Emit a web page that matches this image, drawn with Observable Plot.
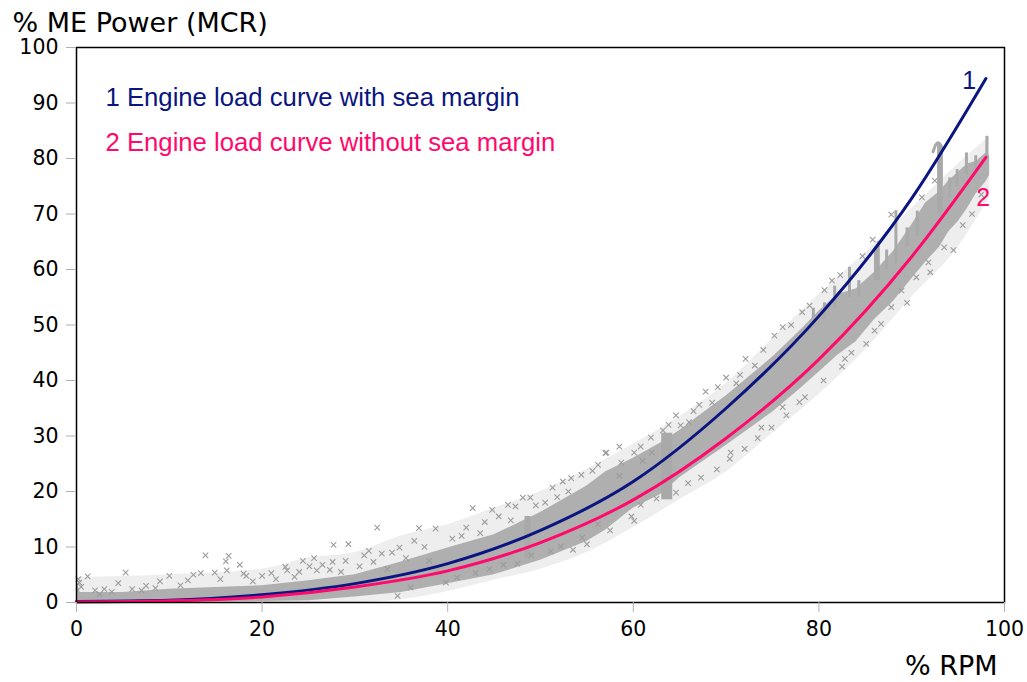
<!DOCTYPE html>
<html>
<head>
<meta charset="utf-8">
<script src="https://cdn.jsdelivr.net/npm/d3@7"></script>
<script src="https://cdn.jsdelivr.net/npm/@observablehq/plot@0.6"></script>
<style>
  body { margin: 0; background: #fff; }
</style>
</head>
<body>
<div id="chart"></div>
<script>
// Engine load curves: % MCR power against % RPM
const rpmPoints     = [0, 10, 20, 30, 40, 50, 60, 70, 80, 90, 98];
const withMargin    = [0.2, 0.4, 1.4, 3.4, 7.0, 13.0, 21.8, 35.0, 51.6, 72.8, 94.4];
const withoutMargin = [0.1, 0.3, 1.0, 2.8, 5.7, 10.8, 18.5, 29.6, 43.8, 62.3, 80.2];

// Dense part of the logged operating points (lower / upper edge per % RPM)
const bandX    = [0, 0.4, 5, 10, 15, 20, 25, 30, 35, 40, 45, 50, 55, 57, 60, 63, 65, 67, 70, 75, 78, 80, 82, 84, 86, 88, 90, 91.5, 93, 94, 95, 96, 97, 98, 98.4];
const bandLow  = [0, 0, 0, 0, 0.1, 0.2, 0.3, 1.0, 1.8, 3.4, 5.0, 7.6, 11.0, 13.0, 17.0, 19.5, 22.5, 24.8, 28.3, 34.3, 38.5, 41.5, 44.5, 47.0, 51.0, 54.2, 58.3, 61.3, 64.0, 66.8, 68.6, 71.0, 73.8, 75.8, 77.0];
const bandHigh = [4.0, 1.8, 1.8, 2.4, 2.7, 3.0, 3.9, 5.0, 7.3, 9.8, 12.2, 16.2, 21.0, 23.5, 26.0, 28.8, 31.0, 33.5, 37.2, 44.2, 49.0, 52.5, 55.5, 56.5, 59.5, 63.2, 68.0, 72.0, 74.0, 76.0, 77.5, 79.0, 79.5, 81.0, 80.5];

// Wider, sparser spread of points around the dense part
const haloX    = [0, 10, 20, 25, 30, 35, 40, 45, 50, 55, 60, 65, 70, 75, 80, 85, 90, 95, 98.4];
const haloLow  = [0, 0, 0, 0, 0, 0.5, 2.0, 4.0, 6.0, 9.0, 13.5, 18.5, 23.5, 30.5, 37.5, 45.5, 55.0, 64.0, 73.0];
const haloHigh = [4.5, 5.0, 6.0, 8.0, 9.0, 12.0, 14.0, 17.0, 20.0, 24.0, 28.5, 33.5, 39.5, 47.5, 55.5, 63.0, 71.0, 79.0, 84.0];

// Clusters and short vertical streaks of points
const spikeX     = [48.6, 63.6, 79.4, 80.6, 81.7, 83.3, 84.3, 86.1, 86.4, 87.3, 88.3, 89.5, 90.6, 92.9, 93.2, 94.1, 94.9, 95.9, 96.9, 98.1];
const spikeBase  = [8.0, 18.5, 50, 51, 53, 55, 55, 58, 58, 60, 61, 64, 66, 70, 70, 73, 75, 77, 78, 80];
const spikeTop   = [15.5, 30.5, 53.0, 54.0, 57.0, 60.4, 58.0, 64.0, 65.0, 63.5, 70.6, 67.5, 70.5, 82.6, 82.0, 76.5, 78.0, 81.0, 80.5, 84.0];
const spikeWidth = [6, 11, 3, 3, 3, 3, 3, 3, 3, 3, 3, 3, 3, 3, 3, 3, 3, 3, 3, 3];
const hookX = [92.3, 92.6, 92.9, 93.2];
const hookY = [81.2, 82.5, 82.8, 82.2];

// Scattered individual points around the dense band
const outlierX = [0.2, 0.3, 0.5, 1.2, 2.0, 3.0, 3.8, 5.3, 6.0, 7.0, 7.5, 8.5, 10.0, 11.2, 12.6, 13.4, 13.9, 14.9, 16.1, 16.2, 16.4, 17.6, 18.3, 19.0, 20.0, 21.0, 22.5, 22.7, 23.5, 24.4, 25.1, 25.6, 25.9, 27.3, 27.6, 27.7, 29.0, 29.3,
  31.0, 31.5, 32.4, 32.9, 34.6, 34.8, 36.0, 36.4, 36.9, 38.7, 39.8, 42.7, 43.0, 44.8, 46.0, 46.5, 47.3, 48.1, 48.9, 51.1, 51.3, 52.2, 52.4, 53.3, 54.4, 54.5, 55.6, 56.2, 56.2, 57.0, 57.1, 58.5, 58.7, 59.8, 60.1, 60.1, 60.8, 60.8, 61.9, 62.5, 63.2, 64.6, 64.6, 65.1, 65.9, 66.0, 67.1, 67.3, 67.8, 69.0, 69.1, 70.4, 71.1, 72.0, 72.1, 73.1, 73.4, 74.9, 75.2, 76.1, 76.1, 76.5, 77.9, 78.2,
  80.6, 81.4, 82.3, 82.5, 82.8, 84.7, 85.1, 85.8, 86.7, 87.8, 87.8, 88.9, 90.5, 91.1, 91.8, 92.5, 93.5, 95.5, 97.5,
  2.5, 4.5, 9.0, 12.0, 15.5, 18.0, 21.5, 24.0, 26.5, 28.5, 30.5, 32.0, 34.0, 33.5, 35.5, 37.5, 38.0, 40.5, 41.5, 42.0, 43.5, 44.0, 45.5, 46.8, 49.5, 50.5, 51.8, 53.0, 41.0, 44.5, 47.5, 49.0, 53.5, 55.0, 57.5, 58.5, 61.0, 62.0, 63.8, 66.5, 68.5, 70.0, 71.5, 74.0, 77.0, 79.0, 70.5, 73.8, 78.5, 80.5, 83.5, 86.0, 89.5, 92.0, 94.5, 96.5];
const outlierY = [4.2, 3.6, 2.8, 4.7, 2.2, 2.4, 1.9, 5.4, 2.4, 2.2, 3.0, 2.6, 4.8, 3.1, 5.0, 5.3, 8.5, 5.4, 7.4, 5.8, 8.4, 6.8, 4.8, 3.8, 4.8, 5.3, 6.4, 5.8, 4.6, 7.5, 6.5, 8.0, 5.8, 5.9, 7.3, 10.4, 7.5, 10.5,
  8.5, 9.3, 13.5, 8.8, 1.2, 9.9, 2.7, 11.1, 13.4, 13.3, 3.6, 17.0, 5.3, 16.7, 6.8, 17.6, 17.3, 18.9, 18.9, 9.2, 20.7, 10.1, 21.8, 22.4, 23.0, 11.7, 23.7, 24.8, 14.1, 26.9, 27.0, 28.1, 25.2, 15.5, 14.7, 27.0, 28.1, 17.6, 29.7, 18.7, 31.0, 33.7, 19.8, 31.9, 21.5, 32.5, 35.6, 22.5, 38.0, 24.0, 38.8, 25.9, 39.5, 27.7, 43.9, 42.7, 29.6, 31.5, 48.1, 49.6, 35.2, 33.7, 36.1, 52.3,
  56.3, 58.0, 59.0, 42.5, 43.9, 62.4, 46.6, 65.4, 50.2, 69.9, 53.2, 56.2, 58.6, 73.0, 61.3, 76.0, 64.0, 68.0, 73.5,
  1.5, 3.5, 3.8, 4.0, 4.2, 5.2, 4.2, 5.5, 6.8, 5.5, 6.5, 7.3, 9.0, 6.0, 8.0, 10.0, 7.5, 11.5, 12.0, 13.5, 12.5, 14.5, 15.5, 14.8, 17.5, 18.0, 19.0, 20.0, 4.5, 6.0, 7.0, 8.5, 9.5, 10.5, 13.0, 22.8, 25.5, 27.0, 32.0, 34.5, 36.0, 40.5, 41.0, 45.5, 50.0, 53.5, 27.0, 31.5, 37.0, 40.0, 45.0, 49.0, 54.0, 59.5, 63.5, 70.0];

const xTicks = [0, 20, 40, 60, 80, 100];
const yTicks = [0, 10, 20, 30, 40, 50, 60, 70, 80, 90, 100];
const curveLabels = ["1", "2"];
const curveLabelX = [96.2, 97.7];
const curveLabelY = [94.0, 72.8];
const legendLines = ["1 Engine load curve with sea margin", "2 Engine load curve without sea margin"];

const NAVY = "#0a1580";
const PINK = "#ff0a6c";
const GREY = "#a9a9a9";

const rows = (xs, ...cols) => xs.map((x, i) => Object.fromEntries([["x", x], ...cols.map(([k, v]) => [k, v[i]])]));
const band = rows(bandX, ["lo", bandLow], ["hi", bandHigh]);
const halo = rows(haloX, ["lo", haloLow], ["hi", haloHigh]);
const spikes = rows(spikeX, ["base", spikeBase], ["top", spikeTop], ["w", spikeWidth]);
const hook = rows(hookX, ["y", hookY]);
const outliers = rows(outlierX, ["y", outlierY]);
const curves = [
  ...rpmPoints.map((x, i) => ({x, y: withMargin[i], s: "with"})),
  ...rpmPoints.map((x, i) => ({x, y: withoutMargin[i], s: "without"}))
];
const labels = curveLabels.map((t, i) => ({t, x: curveLabelX[i], y: curveLabelY[i], c: i ? PINK : NAVY}));

const chart = Plot.plot({
  width: 1027,
  height: 682,
  marginLeft: 76,
  marginRight: 23,
  marginTop: 47,
  marginBottom: 80,
  x: {domain: [0, 100]},
  y: {domain: [0, 100]},
  style: {fontFamily: "DejaVu Sans", fontSize: "20.5px", background: "white", color: "black"},
  marks: [
    Plot.areaY(halo, {x: "x", y1: "lo", y2: "hi", fill: GREY, fillOpacity: 0.2, curve: "monotone-x"}),
    Plot.areaY(band, {x: "x", y1: "lo", y2: "hi", fill: GREY, fillOpacity: 0.92}),
    ...spikes.map(s => Plot.ruleX([s], {x: "x", y1: "base", y2: "top", stroke: GREY, strokeWidth: s.w})),
    Plot.line(hook, {x: "x", y: "y", stroke: GREY, strokeWidth: 3, curve: "natural"}),
    Plot.dot(outliers, {x: "x", y: "y", symbol: "times", r: 2.6, stroke: "#9c9c9c", strokeWidth: 1.1}),
    Plot.line(curves, {x: "x", y: "y", z: "s", stroke: d => d.s === "with" ? NAVY : PINK, strokeWidth: 3, curve: "monotone-x"}),
    Plot.frame({stroke: "black", strokeWidth: 1.5}),
    Plot.axisX({ticks: xTicks, tickSize: 10, tickPadding: 9, stroke: "#b0b0b0", fill: "black", label: null}),
    Plot.axisY({ticks: yTicks, tickSize: 10, tickPadding: 8, stroke: "#b0b0b0", fill: "black", label: null}),
    Plot.text(labels, {x: "x", y: "y", text: "t", fill: "c", fontFamily: "Liberation Sans", fontSize: 25, textAnchor: "middle", lineAnchor: "middle"}),
    Plot.text([legendLines[0]], {text: d => d, frameAnchor: "top-left", dx: 29, dy: 58, textAnchor: "start", lineAnchor: "bottom", fill: NAVY, fontFamily: "Liberation Sans", fontSize: 25.7}),
    Plot.text([legendLines[1]], {text: d => d, frameAnchor: "top-left", dx: 29, dy: 103, textAnchor: "start", lineAnchor: "bottom", fill: PINK, fontFamily: "Liberation Sans", fontSize: 25.7}),
    Plot.text(["% ME Power (MCR)"], {text: d => d, frameAnchor: "top-left", dx: -64, dy: -16, textAnchor: "start", lineAnchor: "bottom", fontFamily: "DejaVu Sans", fontSize: 27}),
    Plot.text(["% RPM"], {text: d => d, frameAnchor: "bottom-right", dx: -7, dy: 72, textAnchor: "end", lineAnchor: "bottom", fontFamily: "DejaVu Sans", fontSize: 27})
  ]
});

document.getElementById("chart").append(chart);
</script>
</body>
</html>
